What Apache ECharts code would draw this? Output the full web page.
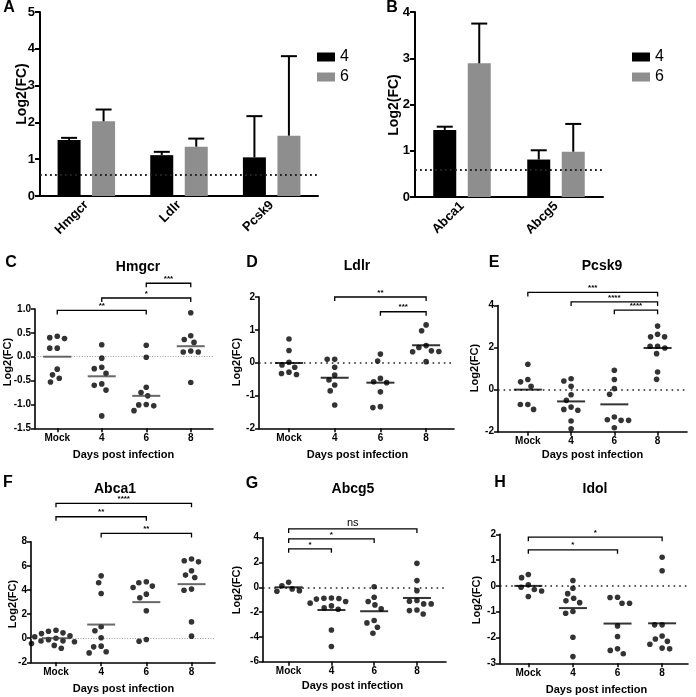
<!DOCTYPE html>
<html><head><meta charset="utf-8">
<script src="https://cdn.jsdelivr.net/npm/echarts@6/dist/echarts.min.js"></script>
<style>html,body{margin:0;padding:0;background:#fff}#c{width:696px;height:697px}</style>
</head><body><div id="c"></div>
<script>
// ---------------- DATA ----------------
const days = ['Mock', '4', '6', '8'];
const legendNames = ['4', '6'];
const threshold = 0.585;

// Panel A
const aGenes = ['Hmgcr', 'Ldlr', 'Pcsk9'];
const aDay4 = [1.52, 1.11, 1.05];
const aDay4Err = [1.58, 1.20, 2.17];
const aDay6 = [2.03, 1.34, 1.64];
const aDay6Err = [2.35, 1.56, 3.80];
const aTicks = [0, 5, 1];

// Panel B
const bGenes = ['Abca1', 'Abcg5'];
const bDay4 = [1.45, 0.81];
const bDay4Err = [1.52, 1.01];
const bDay6 = [2.89, 0.98];
const bDay6Err = [3.75, 1.58];
const bTicks = [0, 4, 1];

// Panel C Hmgcr
const hmgcrMock = [0.40, 0.38, 0.43, 0.18, 0.18, -0.26, -0.45, -0.38, -0.53];
const hmgcrD4 = [0.25, -0.03, -0.22, -0.25, -0.35, -0.57, -0.60, -0.70, -1.24];
const hmgcrD6 = [0.24, -0.01, -0.64, -0.75, -0.82, -1.01, -1.00, -1.03, -1.13];
const hmgcrD8 = [0.92, 0.44, 0.36, 0.30, 0.10, 0.10, 0.12, -0.54];
const hmgcrMeans = [0.0, -0.41, -0.82, 0.22];
const hmgcrSig = [[0, 2, 0.97, '**'], [1, 3, 1.23, '*'], [2, 3, 1.54, '***']];

// Panel D Ldlr
const ldlrMock = [0.72, 0.37, 0.01, -0.07, -0.14, -0.29, -0.36, -0.33];
const ldlrD4 = [0.10, 0.10, -0.14, -0.38, -0.53, -0.68, -0.86, -1.29];
const ldlrD6 = [0.26, 0.05, -0.48, -0.61, -0.58, -0.89, -1.37, -1.34];
const ldlrD8 = [1.15, 0.97, 0.52, 0.46, 0.36, 0.34, 0.33, 0.03];
const ldlrMeans = [-0.01, -0.46, -0.61, 0.53];
const ldlrSig = [[1, 3, 2.0, '**'], [2, 3, 1.55, '***']];

// Panel E Pcsk9
const pcsk9Mock = [1.21, 0.48, 0.37, 0.16, -0.71, -0.71, -0.94];
const pcsk9D4 = [0.52, 0.41, 0.16, -0.24, -0.51, -0.83, -0.94, -0.98, -1.49, -1.86];
const pcsk9D6 = [0.92, 0.48, 0.05, -0.22, -1.30, -1.43, -1.46, -1.46, -1.81];
const pcsk9D8 = [3.02, 2.63, 2.51, 2.51, 2.06, 2.06, 1.98, 1.71, 0.84, 0.49];
const pcsk9Means = [0.0, -0.56, -0.70, 1.98];
const pcsk9Sig = [[0, 3, 4.62, '***'], [1, 3, 4.17, '****'], [2, 3, 3.78, '****']];

// Panel F Abca1
const abca1Mock = [0.66, 0.58, 0.44, 0.38, 0.19, 0.12, 0.0, -0.12, -0.22, -0.24, -0.30, -0.44, -0.60, -0.83];
const abca1D4 = [5.17, 4.59, 3.71, 0.95, 0.62, 0.03, -0.66, -0.72, -1.13, -1.22];
const abca1D6 = [4.68, 4.59, 4.32, 4.20, 3.65, 3.35, 2.27, -0.11, -0.25];
const abca1D8 = [6.56, 6.42, 6.33, 5.59, 5.23, 5.03, 4.07, 3.98, 1.35, 0.17];
const abca1Means = [0.0, 1.13, 2.99, 4.48];
const abca1Sig = [[0, 3, 11.18, '****'], [0, 2, 10.07, '**'], [1, 3, 8.69, '**']];

// Panel G Abcg5
const abcg5Mock = [0.40, 0.13, -0.13, -0.27, -0.32];
const abcg5D4 = [-0.86, -0.88, -0.90, -0.95, -1.15, -1.28, -1.50, -1.66, -1.77, -3.44, -4.78];
const abcg5D6 = [0.05, -0.80, -1.15, -1.42, -1.74, -2.68, -2.87, -3.22, -3.70];
const abcg5D8 = [1.93, 0.54, -0.27, -1.07, -1.13, -1.34, -1.34, -1.83, -1.88, -2.15];
const abcg5Means = [0.0, -1.83, -1.93, -0.86];
const abcg5Sig = [[0, 3, 4.71, 'ns'], [0, 2, 3.9, '*'], [0, 1, 3.1, '*']];

// Panel H Idol
const idolMock = [0.44, 0.32, 0.04, -0.05, -0.14, -0.20, -0.41];
const idolD4 = [0.21, -0.09, -0.30, -0.48, -0.58, -0.65, -0.99, -1.06, -1.99, -2.74];
const idolD6 = [-0.44, -0.45, -0.67, -0.67, -1.55, -1.96, -2.44, -2.50, -2.63];
const idolD8 = [1.11, 0.59, -1.51, -1.51, -1.94, -2.06, -2.15, -2.26, -2.41, -2.44];
const idolMeans = [0.0, -0.86, -1.46, -1.45];
const idolSig = [[0, 3, 1.89, '*'], [0, 2, 1.4, '*']];

// ---------------- LAYOUT / STYLE ----------------
const FONT = '"Liberation Sans", Arial, Helvetica, sans-serif';
const INK = '#000';
const BAR_W = 23, BAR_GAP = 0.5;
const BAR_OFF = BAR_W * (1 + BAR_GAP) / 2;

const grids = [], xAxes = [], yAxes = [], series = [], graphics = [];

function text(t, x, y, size, weight, rot, color) {
  graphics.push({
    type: 'text', x: x, y: y, rotation: rot || 0, silent: true,
    style: {
      text: t, fill: color || INK, font: (weight || 'bold') + ' ' + size + 'px ' + FONT,
      textAlign: 'center', textVerticalAlign: 'middle', align: 'center', verticalAlign: 'middle'
    }
  });
}

function errorSeries(gi, vals, errs, off) {
  return {
    type: 'custom', xAxisIndex: gi, yAxisIndex: gi, clip: false, silent: true, z: 3,
    data: vals.map((v, i) => [i, v, errs[i]]),
    encode: { x: 0, y: [1, 2] },
    renderItem: function (params, api) {
      const p0 = api.coord([api.value(0), api.value(1)]);
      const p1 = api.coord([api.value(0), api.value(2)]);
      const cx = p0[0] + off;
      return {
        type: 'group', children: [
          { type: 'line', shape: { x1: cx, y1: p0[1], x2: cx, y2: p1[1] }, style: { stroke: INK, lineWidth: 2 } },
          { type: 'line', shape: { x1: cx - 8, y1: p1[1], x2: cx + 8, y2: p1[1] }, style: { stroke: INK, lineWidth: 2 } }
        ]
      };
    }
  };
}

function barPanel(gi, genes, d4, e4, d6, e6, ticks, grid) {
  grids.push(grid);
  xAxes.push({
    gridIndex: gi, type: 'category', data: genes,
    axisLine: { onZero: false, lineStyle: { color: INK, width: 2 } },
    axisTick: { alignWithLabel: true, length: 5, lineStyle: { color: INK, width: 2 } },
    axisLabel: { rotate: 45, fontSize: 13, fontWeight: 'bold', color: INK, margin: 7, fontFamily: FONT }
  });
  yAxes.push({
    gridIndex: gi, type: 'value', min: ticks[0], max: ticks[1], interval: ticks[2],
    axisLine: { show: true, onZero: false, lineStyle: { color: INK, width: 2 } },
    axisTick: { show: true, length: 5, lineStyle: { color: INK, width: 2 } },
    splitLine: { show: false },
    axisLabel: { fontSize: 13, fontWeight: 'bold', color: INK, margin: 5, fontFamily: FONT }
  });
  series.push({
    type: 'bar', name: legendNames[0], xAxisIndex: gi, yAxisIndex: gi, data: d4,
    barWidth: BAR_W, barGap: (BAR_GAP * 100) + '%', itemStyle: { color: '#000' },
    markLine: {
      silent: true, symbol: ['none', 'none'], label: { show: false },
      lineStyle: { color: '#222', width: 1.8, type: [1.8, 3.2] },
      data: [{ yAxis: threshold }]
    }
  });
  series.push({
    type: 'bar', name: legendNames[1], xAxisIndex: gi, yAxisIndex: gi, data: d6,
    barWidth: BAR_W, barGap: (BAR_GAP * 100) + '%', itemStyle: { color: '#8e8e8e' }
  });
  series.push(errorSeries(gi, d4, e4, -BAR_OFF));
  series.push(errorSeries(gi, d6, e6, BAR_OFF));
}

// simple beeswarm: horizontal pixel offsets so dots don't overlap
function swarm(vals, yUnit, d) {
  const order = vals.map((v, i) => i).sort((a, b) => vals[b] - vals[a]);
  const placed = [], offs = new Array(vals.length);
  for (const i of order) {
    const y = vals[i] * yUnit;
    let chosen = 0;
    for (let k = 0; k < 400; k++) {
      const c = (k % 2 === 0 ? 1 : -1) * Math.ceil(k / 2) * 0.25;
      let ok = true;
      for (const p of placed) {
        const dx = p[0] - c, dy = p[1] - y;
        if (dx * dx + dy * dy < d * d) { ok = false; break; }
      }
      if (ok) { chosen = c; break; }
    }
    placed.push([chosen, y]);
    offs[i] = chosen;
  }
  return offs;
}

function bracketSeries(gi, sig) {
  return {
    type: 'custom', xAxisIndex: gi, yAxisIndex: gi, clip: false, silent: true, z: 5,
    data: sig.map(s => [s[0], s[2], s[1]]),
    encode: { x: [0, 2], y: 1 },
    renderItem: function (params, api) {
      const s = sig[params.dataIndex];
      const p1 = api.coord([s[0], s[2]]);
      const p2 = api.coord([s[1], s[2]]);
      const y = p1[1];
      const isNs = s[3] === 'ns';
      return {
        type: 'group', children: [
          { type: 'polyline', shape: { points: [[p1[0], y + 4], [p1[0], y], [p2[0], y], [p2[0], y + 4]] },
            style: { stroke: INK, lineWidth: 1.3, fill: null } },
          { type: 'text', x: (p1[0] + p2[0]) / 2, y: y - (isNs ? 0 : 0.5),
            style: { text: s[3], fill: INK, font: (isNs ? 'normal 11px ' : 'bold 8px ') + FONT,
              textAlign: 'center', textVerticalAlign: 'bottom', align: 'center', verticalAlign: 'bottom' } }
        ]
      };
    }
  };
}

function scatterPanel(gi, p) {
  grids.push(p.grid);
  const xUnit = p.grid.width / (p.xmax - p.xmin);
  const yUnit = p.grid.height / (p.ymax - p.ymin);
  xAxes.push({
    gridIndex: gi, type: 'value', min: p.xmin, max: p.xmax,
    axisLine: { onZero: false, lineStyle: { color: INK, width: 1.6 } },
    axisTick: { show: true, customValues: [0, 1, 2, 3], length: 4, lineStyle: { color: INK, width: 1.5 } },
    axisLabel: { customValues: [0, 1, 2, 3], formatter: v => days[Math.round(v)], fontSize: 10, fontWeight: 'bold',
      color: INK, margin: 5, fontFamily: FONT },
    splitLine: { show: false }
  });
  yAxes.push({
    gridIndex: gi, type: 'value', min: p.ymin, max: p.ymax, interval: p.yint,
    axisLine: { show: true, onZero: false, lineStyle: { color: INK, width: 1.6 } },
    axisTick: { show: true, length: 4, lineStyle: { color: INK, width: 1.5 } },
    splitLine: { show: false },
    axisLabel: { formatter: p.fmt, fontSize: 10, fontWeight: 'bold', color: INK, margin: 4, fontFamily: FONT }
  });
  const pts = [];
  p.groups.forEach((vals, ci) => {
    const offs = swarm(vals, yUnit, 7.4);
    vals.forEach((v, k) => pts.push([ci + offs[k] / xUnit, v]));
  });
  const zs = p.light
    ? { color: '#9a9a9a', width: 1, type: [1, 1.6] }
    : { color: '#222', width: 1.6, type: [1.6, 4] };
  series.push({
    type: 'scatter', xAxisIndex: gi, yAxisIndex: gi, data: pts, symbolSize: 5.6,
    itemStyle: { color: '#000' }, z: 3, silent: true,
    markLine: { silent: true, symbol: ['none', 'none'], label: { show: false }, lineStyle: zs, data: [{ yAxis: 0 }], z: 1 }
  });
  series.push({
    type: 'scatter', xAxisIndex: gi, yAxisIndex: gi, data: p.means.map((m, i) => [i, m]),
    symbol: 'rect', symbolSize: [28, 2], itemStyle: { color: p.light ? '#444' : '#000' }, z: 4, silent: true
  });
  series.push(bracketSeries(gi, p.sig));
  text(p.title, p.titlePos[0], p.titlePos[1], 14, 'bold');
  text(p.letter, p.letterPos[0], p.letterPos[1], 16, 'bold');
  text('Log2(FC)', p.yNamePos[0], p.yNamePos[1], 11, 'bold', Math.PI / 2);
  text('Days post infection', p.xNamePos[0], p.xNamePos[1], 11, 'bold');
}

// ---------------- BUILD ----------------
barPanel(0, aGenes, aDay4, aDay4Err, aDay6, aDay6Err, aTicks, { left: 40, top: 12, width: 278, height: 184 });
barPanel(1, bGenes, bDay4, bDay4Err, bDay6, bDay6Err, bTicks, { left: 415, top: 12, width: 188, height: 185 });
text('A', 9, 8, 16, 'bold');
text('B', 392, 8, 16, 'bold');
text('Log2(FC)', 22, 94, 14, 'bold', Math.PI / 2);
text('Log2(FC)', 394, 105, 14, 'bold', Math.PI / 2);

const f1 = v => v.toFixed(1);
const f0 = v => String(v);
const panels = [
  { letter: 'C', title: 'Hmgcr', groups: [hmgcrMock, hmgcrD4, hmgcrD6, hmgcrD8], means: hmgcrMeans, sig: hmgcrSig,
    ymin: -1.5, ymax: 1, yint: 0.5, fmt: f1, light: true,
    grid: { left: 35, top: 309, width: 178, height: 119.3 }, xmin: -0.5, xmax: 3.5,
    titlePos: [138, 267], letterPos: [11, 263], yNamePos: [8, 362], xNamePos: [123.5, 455] },
  { letter: 'D', title: 'Ldlr', groups: [ldlrMock, ldlrD4, ldlrD6, ldlrD8], means: ldlrMeans, sig: ldlrSig,
    ymin: -2, ymax: 2, yint: 1, fmt: f0, light: false,
    grid: { left: 259, top: 297, width: 195, height: 131.3 }, xmin: -0.656, xmax: 3.61,
    titlePos: [357, 266], letterPos: [252, 263], yNamePos: [237, 362], xNamePos: [357.5, 455] },
  { letter: 'E', title: 'Pcsk9', groups: [pcsk9Mock, pcsk9D4, pcsk9D6, pcsk9D8], means: pcsk9Means, sig: pcsk9Sig,
    ymin: -2, ymax: 4, yint: 2, fmt: f0, light: false,
    grid: { left: 498, top: 305.5, width: 189, height: 126.2 }, xmin: -0.69, xmax: 3.68,
    titlePos: [602, 266], letterPos: [494, 263], yNamePos: [475, 368], xNamePos: [592.5, 455] },
  { letter: 'F', title: 'Abca1', groups: [abca1Mock, abca1D4, abca1D6, abca1D8], means: abca1Means, sig: abca1Sig,
    ymin: -2, ymax: 8, yint: 2, fmt: f0, light: true,
    grid: { left: 31, top: 541.7, width: 184, height: 120.6 }, xmin: -0.553, xmax: 3.52,
    titlePos: [115, 489], letterPos: [8, 483], yNamePos: [13, 604], xNamePos: [123.5, 689] },
  { letter: 'G', title: 'Abcg5', groups: [abcg5Mock, abcg5D4, abcg5D6, abcg5D8], means: abcg5Means, sig: abcg5Sig,
    ymin: -6, ymax: 4, yint: 2, fmt: f0, light: false,
    grid: { left: 263, top: 537.7, width: 183, height: 124 }, xmin: -0.6, xmax: 3.68,
    titlePos: [353, 489], letterPos: [252, 484], yNamePos: [237, 590], xNamePos: [352.5, 686] },
  { letter: 'H', title: 'Idol', groups: [idolMock, idolD4, idolD6, idolD8], means: idolMeans, sig: idolSig,
    ymin: -3, ymax: 2, yint: 1, fmt: f0, light: false,
    grid: { left: 500, top: 534.3, width: 188, height: 129 }, xmin: -0.635, xmax: 3.58,
    titlePos: [595, 489], letterPos: [500, 483], yNamePos: [477, 600], xNamePos: [596.5, 690] }
];
panels.forEach((p, i) => scatterPanel(i + 2, p));

const legendCommon = {
  data: legendNames, orient: 'vertical', itemWidth: 18, itemHeight: 9, itemGap: 4, icon: 'rect',
  selectedMode: false, textStyle: { fontSize: 16, color: INK, fontFamily: FONT, lineHeight: 16 }, itemTextGap: 8
};
const chart = echarts.init(document.getElementById('c'));
chart.setOption({
  animation: false,
  backgroundColor: '#fff',
  textStyle: { fontFamily: FONT },
  grid: grids,
  xAxis: xAxes,
  yAxis: yAxes,
  legend: [Object.assign({ left: 312, top: 44 }, legendCommon), Object.assign({ left: 627, top: 44 }, legendCommon)],
  series: series,
  graphic: { elements: graphics }
});
</script></body></html>
